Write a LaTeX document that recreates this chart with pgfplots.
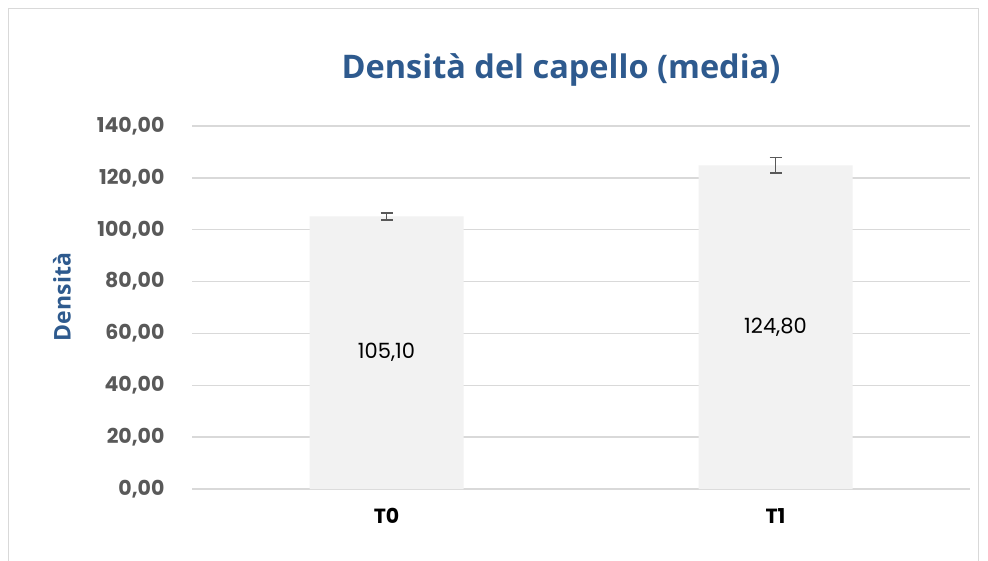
\documentclass[border=0pt]{standalone}
\usepackage{pgfplots}
\pgfplotsset{compat=1.18}
\usepackage{fontspec}
\setmainfont{Poppins}
\newfontfamily\titlefont{Open Sans}
\definecolor{titlecol}{HTML}{2E5A8E}
\definecolor{tickcol}{HTML}{595959}
\definecolor{gridcol}{HTML}{D9D9D9}
\definecolor{barcol}{HTML}{F2F2F2}
\definecolor{bordercol}{HTML}{D9D9D9}
\begin{document}
\begin{tikzpicture}[x=1pt,y=1pt]
\useasboundingbox (0,0) rectangle (988,560);
\fill[white] (0,0) rectangle (988,560);
\draw[color=bordercol, line width=1pt] (8.5,-5) rectangle (978.5,551.5);
\node[font=\titlefont\bfseries\fontsize{32.5}{36}\selectfont, text=titlecol] at (561,490) {Densità del capello (media)};
\node[font=\titlefont\bfseries\fontsize{23}{26}\selectfont, text=titlecol, rotate=90] at (62,263) {Densità};
\begin{axis}[
  at={(192pt,71pt)}, anchor=south west, scale only axis,
  width=778pt, height=363pt,
  xmin=-0.5, xmax=1.5, ymin=0, ymax=140,
  ytick={0,20,...,140},
  yticklabels={{0,00},{20,00},{40,00},{60,00},{80,00},{100,00},{120,00},{140,00}},
  xtick={0,1}, xticklabels={T0,T1},
  axis line style={draw=none},
  major tick length=0pt,
  ymajorgrids, grid style={gridcol, line width=1.5pt},
  yticklabel style={font=\bfseries\fontsize{20.5}{24}\selectfont, text=tickcol, anchor=east, xshift=-24pt},
  xticklabel style={font=\bfseries\fontsize{20.5}{24}\selectfont, text=black, yshift=-16pt},
  clip=false,
]
\addplot[ybar, bar width=154pt, fill=barcol, draw=none,
  error bars/.cd, y dir=both, y explicit,
  error bar style={color=tickcol, line width=1.4pt},
  error mark options={rotate=90, mark size=6pt, line width=1.4pt, color=tickcol}]
  coordinates {(0,105.1) +- (0,1.3) (1,124.8) +- (0,3.0)};
\node[font=\fontsize{21}{24}\selectfont] at (axis cs:0,52.55) {105,10};
\node[font=\fontsize{21}{24}\selectfont] at (axis cs:1,62.4) {124,80};
\end{axis}
\end{tikzpicture}
\end{document}
